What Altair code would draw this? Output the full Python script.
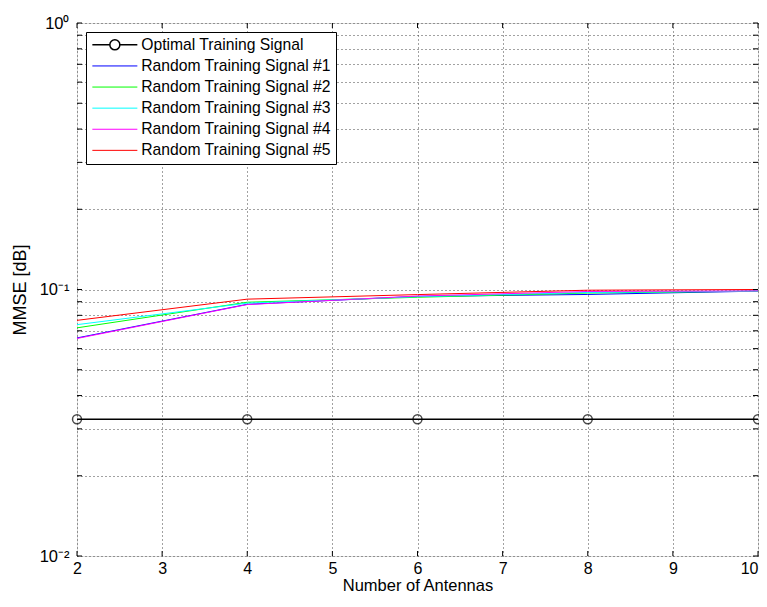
import altair as alt
import pandas as pd

# ---------------- data ----------------
antennas = [2, 4, 6, 8, 10]
optimal = [0.0326, 0.0326, 0.0326, 0.0326, 0.0326]
random1 = [0.0658, 0.0880, 0.0942, 0.0958, 0.0986]
random2 = [0.0718, 0.0896, 0.0935, 0.0970, 0.0986]
random3 = [0.0738, 0.0889, 0.0940, 0.0975, 0.0986]
random4 = [0.0655, 0.0878, 0.0945, 0.0983, 0.0988]
random5 = [0.0766, 0.0920, 0.0957, 0.0994, 0.1000]

series_names = [
    "Optimal Training Signal",
    "Random Training Signal #1",
    "Random Training Signal #2",
    "Random Training Signal #3",
    "Random Training Signal #4",
    "Random Training Signal #5",
]
series_colors = ["#000000", "#0000ff", "#00ff00", "#00ffff", "#ff00ff", "#ff0000"]
series_values = [optimal, random1, random2, random3, random4, random5]

x_ticks = [2, 3, 4, 5, 6, 7, 8, 9, 10]
y_ticks = [0.01, 0.02, 0.03, 0.04, 0.05, 0.06, 0.07, 0.08, 0.09,
           0.1, 0.2, 0.3, 0.4, 0.5, 0.6, 0.7, 0.8, 0.9, 1.0]

rows = []
for name, vals in zip(series_names, series_values):
    for xv, yv in zip(antennas, vals):
        rows.append({"x": xv, "v": yv, "series": name})
df = pd.DataFrame(rows)
df_opt = pd.DataFrame({"x": antennas, "v": optimal})
df_xt = pd.DataFrame({"x": x_ticks})
df_yt = pd.DataFrame({"v": y_ticks})

W, H = 681, 533
FONT = "Liberation Sans"

xscale = alt.Scale(domain=[2, 10], nice=False, zero=False)
yscale = alt.Scale(type="log", domain=[0.01, 1], nice=False)

grid_common = dict(grid=True, gridColor="#444444", gridDash=[1, 3], gridWidth=1,
                   ticks=False, tickSize=0, domain=False,
                   labelFont=FONT, labelColor="black", titleFont=FONT,
                   titleColor="black", titleFontWeight="normal")

xaxis = alt.Axis(values=x_ticks, title="Number of Antennas", labelFontSize=16,
                 labelPadding=4, titleFontSize=16.5, titleX=W / 2, titleY=29,
                 titleBaseline="middle", titleAlign="center", format="d",
                 labelAlign={"condition": {"test": "datum.value == 10", "value": "right"},
                             "value": "center"},
                 **grid_common)

yaxis = alt.Axis(values=y_ticks, title="MMSE [dB]", labelFontSize=16.5,
                 labelPadding=8, titleFontSize=18, titleX=-57, titleY=H / 2,
                 titleBaseline="middle", titleAlign="center", titleAngle=-90,
                 labelExpr="datum.value == 1 ? '10⁰' : (abs(datum.value - 0.1) < 1e-9 ? '10⁻¹' : (abs(datum.value - 0.01) < 1e-9 ? '10⁻²' : ''))",
                 **grid_common)

OPT = "datum.value === 'Optimal Training Signal'"
circle_path = "M-4.5,0H-1M1,0H4.5M-1,0A1,1 0 1,1 1,0A1,1 0 1,1 -1,0"
line_path = "M-4.5,0H4.5"

legend = alt.Legend(
    title=None, orient="none", legendX=9, legendY=9,
    symbolType={"expr": f"{OPT} ? '{circle_path}' : '{line_path}'"},
    symbolStrokeWidth={"expr": f"{OPT} ? 1.5 : 1"},
    symbolFillColor="transparent",
    symbolSize=100, symbolOffset=16,
    labelOffset=18.5, labelFont=FONT, labelFontSize=15.7, labelColor="black",
    rowPadding=4.1, padding=5, strokeColor="black", fillColor="white",
    labelLimit=400,
)

X = alt.X("x:Q", scale=xscale, axis=xaxis)
Y = alt.Y("v:Q", scale=yscale, axis=yaxis)

lines = alt.Chart(df).mark_line(clip=True).encode(
    x=X, y=Y,
    color=alt.Color("series:N", scale=alt.Scale(domain=series_names, range=series_colors),
                    legend=legend, sort=series_names),
    strokeWidth=alt.condition(alt.datum.series == series_names[0], alt.value(1.5), alt.value(1)),
)

points = alt.Chart(df_opt).mark_point(shape="circle", filled=False, size=80,
                                      strokeWidth=1.5, color="black").encode(x=X, y=Y)

xt_bottom = alt.Chart(df_xt).mark_rule(color="black", strokeWidth=1).encode(
    x=X, y=alt.value(H), y2=alt.value(H - 5))
xt_top = alt.Chart(df_xt).mark_rule(color="black", strokeWidth=1).encode(
    x=X, y=alt.value(0), y2=alt.value(5))
yt_left = alt.Chart(df_yt).mark_rule(color="black", strokeWidth=1).encode(
    y=Y, x=alt.value(0), x2=alt.value(5))
yt_right = alt.Chart(df_yt).mark_rule(color="black", strokeWidth=1).encode(
    y=Y, x=alt.value(W), x2=alt.value(W - 5))

chart = alt.layer(lines, points, xt_bottom, xt_top, yt_left, yt_right).properties(
    width=W, height=H,
    autosize=alt.AutoSizeParams(type="none"),
    padding={"left": 69, "top": 15, "right": 1, "bottom": 38},
    background="white",
).configure_view(stroke="black", strokeWidth=1).configure(font=FONT)

chart.save("out.html", embed_options={"renderer": "svg", "actions": False})
